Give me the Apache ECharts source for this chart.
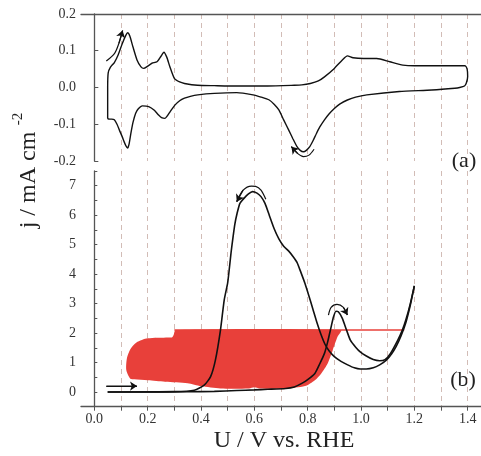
<!DOCTYPE html>
<html><head><meta charset="utf-8">
<script src="https://cdn.jsdelivr.net/npm/echarts@6/dist/echarts.min.js"></script>
<style>html,body{margin:0;padding:0;background:#fff}#c{width:481px;height:456px}</style>
</head><body><div id="c"></div>
<script>
// ---- data ----
const xTickValues = [0,0.1,0.2,0.3,0.4,0.5,0.6,0.7,0.8,0.9,1.0,1.1,1.2,1.3,1.4];
const xLabelValues = [0,0.2,0.4,0.6,0.8,1.0,1.2,1.4];
const bottomYLabels = [0,1,2,3,4,5,6,7];

// panel (a): cyclic voltammogram (closed loop)
const cvA = [[0.05,-0.085],[0.05,0.0],[0.052,0.04],[0.06,0.055],[0.075,0.068],[0.09,0.09],[0.105,0.12],[0.118,0.142],[0.125,0.149],[0.133,0.14],[0.145,0.11],[0.16,0.075],[0.175,0.056],[0.185,0.052],[0.2,0.058],[0.216,0.066],[0.235,0.07],[0.25,0.085],[0.261,0.096],[0.272,0.082],[0.283,0.057],[0.3,0.025],[0.32,0.015],[0.338,0.011],[0.387,0.006],[0.45,0.005],[0.534,0.004],[0.65,0.004],[0.75,0.006],[0.778,0.007],[0.81,0.011],[0.84,0.018],[0.863,0.029],[0.9,0.052],[0.93,0.075],[0.949,0.086],[0.97,0.081],[1.01,0.079],[1.059,0.079],[1.108,0.07],[1.157,0.061],[1.2,0.059],[1.39,0.059],[1.398,0.05],[1.4,0.03],[1.395,0.012],[1.388,0.004],[1.37,0.0],[1.352,-0.002],[1.266,-0.007],[1.144,-0.011],[1.022,-0.02],[0.98,-0.026],[0.949,-0.034],[0.92,-0.045],[0.9,-0.057],[0.88,-0.072],[0.863,-0.088],[0.845,-0.108],[0.833,-0.125],[0.82,-0.145],[0.808,-0.161],[0.795,-0.171],[0.784,-0.175],[0.772,-0.171],[0.76,-0.161],[0.745,-0.14],[0.729,-0.116],[0.71,-0.088],[0.692,-0.061],[0.675,-0.046],[0.656,-0.034],[0.625,-0.026],[0.595,-0.02],[0.534,-0.014],[0.45,-0.016],[0.388,-0.02],[0.36,-0.024],[0.338,-0.029],[0.32,-0.036],[0.302,-0.048],[0.285,-0.065],[0.265,-0.084],[0.252,-0.082],[0.241,-0.075],[0.225,-0.062],[0.204,-0.052],[0.18,-0.05],[0.165,-0.058],[0.155,-0.07],[0.145,-0.095],[0.137,-0.125],[0.13,-0.155],[0.125,-0.165],[0.118,-0.158],[0.113,-0.15],[0.104,-0.133],[0.094,-0.116],[0.085,-0.1],[0.075,-0.088],[0.065,-0.086],[0.057,-0.086],[0.05,-0.085]];

// panel (b): forward scan
const forwardB = [[0.05,0],[0.2,0],[0.35,0.005],[0.45,0.02],[0.534,0.05],[0.6,0.07],[0.65,0.09],[0.717,0.12],[0.75,0.17],[0.778,0.29],[0.8,0.42],[0.827,0.63],[0.845,0.95],[0.863,1.31],[0.875,1.7],[0.888,2.21],[0.897,2.55],[0.906,2.74],[0.915,2.72],[0.93,2.5],[0.945,2.12],[0.96,1.76],[0.98,1.52],[0.997,1.36],[1.02,1.22],[1.046,1.1],[1.07,1.06],[1.09,1.1],[1.11,1.3],[1.138,1.76],[1.155,2.1],[1.168,2.44],[1.185,3.0],[1.2,3.6]];
// panel (b): backward scan
const backwardB = [[1.2,3.6],[1.185,2.95],[1.168,2.35],[1.15,1.9],[1.132,1.55],[1.115,1.3],[1.095,1.08],[1.07,0.92],[1.046,0.82],[1.02,0.78],[0.997,0.78],[0.975,0.82],[0.95,0.92],[0.925,1.04],[0.9,1.2],[0.88,1.4],[0.865,1.62],[0.85,1.95],[0.835,2.35],[0.82,2.8],[0.805,3.25],[0.79,3.68],[0.775,4.05],[0.76,4.4],[0.745,4.6],[0.729,4.78],[0.71,4.95],[0.692,5.2],[0.674,5.55],[0.656,6.0],[0.64,6.4],[0.625,6.63],[0.61,6.75],[0.593,6.8],[0.578,6.72],[0.562,6.58],[0.546,6.4],[0.535,6.05],[0.527,5.7],[0.52,5.25],[0.513,4.75],[0.507,4.25],[0.5,3.7],[0.487,3.12],[0.473,2.1],[0.454,1.08],[0.436,0.52],[0.412,0.23],[0.375,0.06],[0.3,0.01],[0.05,0]];

// red patch in panel (b)
const redPatch = [[0.135,0.45],[0.12,0.74],[0.122,1.14],[0.135,1.45],[0.158,1.68],[0.2,1.82],[0.277,1.85],[0.292,1.86],[0.298,1.95],[0.305,2.1],[0.925,2.1],[0.912,1.87],[0.894,1.42],[0.875,0.97],[0.851,0.63],[0.827,0.4],[0.79,0.2],[0.717,0.12],[0.62,0.12],[0.6,0.16],[0.58,0.12],[0.473,0.12],[0.4,0.2],[0.35,0.3],[0.265,0.35],[0.2,0.4],[0.15,0.43]];
const redLine = [[0.3,2.1],[1.162,2.1]];

// arrows (last point = arrow tip)
const arrowA1 = [[0.045,0.072],[0.076,0.093],[0.092,0.12],[0.106,0.155]];
const arrowA2 = [[0.824,-0.168],[0.805,-0.184],[0.784,-0.188],[0.763,-0.18],[0.739,-0.161]];
const arrowB1 = [[0.643,6.54],[0.625,6.85],[0.605,6.98],[0.589,6.99],[0.558,6.85],[0.534,6.46]];
const arrowB2 = [[0.878,2.61],[0.888,2.87],[0.91,2.97],[0.934,2.87],[0.949,2.61]];
const arrowB3 = [[0.045,0.2],[0.16,0.2]];

// ---- chart ----
const chart = echarts.init(document.getElementById('c'), null, {renderer:'canvas'});
const FONT = '"Liberation Serif","Times New Roman",serif';
const axisCol = '#555';
const gridCol = '#d2bcb6';
const GL = 81, GW = 409.6;
const fmt1 = v => Number(v).toFixed(1);

function arrowSeries(coords, xi){
  const n = coords.length;
  return [
    {type:'line', xAxisIndex:xi, yAxisIndex:xi, data:coords, showSymbol:false, smooth:0.3, silent:true,
     lineStyle:{color:'#111', width:1.2}, z:5},
    {type:'lines', coordinateSystem:'cartesian2d', xAxisIndex:xi, yAxisIndex:xi,
     symbol:['none','arrow'], symbolSize:[5,7], silent:true,
     lineStyle:{color:'#111', width:1.2, opacity:1, curveness:0},
     data:[{coords:[coords[n-2], coords[n-1]]}], z:5}
  ];
}

chart.setOption({
  animation:false,
  grid:[
    {left:GL, top:14, width:GW, height:147},
    {left:GL, top:171, width:GW, height:235.7}
  ],
  xAxis:[
    {type:'value', gridIndex:0, min:-0.05, max:1.45, position:'top',
     axisLine:{show:true, onZero:false, lineStyle:{color:axisCol, width:1.3}},
     axisTick:{show:false, customValues:xTickValues},
     axisLabel:{show:false, customValues:xLabelValues},
     splitLine:{show:true, lineStyle:{color:gridCol, type:[5,4], width:1}}},
    {type:'value', gridIndex:1, min:-0.05, max:1.45, position:'bottom',
     axisLine:{show:true, onZero:false, lineStyle:{color:axisCol, width:1.3}},
     axisTick:{show:true, inside:false, length:4, customValues:xTickValues, lineStyle:{color:axisCol}},
     axisLabel:{show:true, customValues:xLabelValues, formatter:fmt1, fontFamily:FONT, fontSize:14, color:'#333', margin:6},
     splitLine:{show:true, lineStyle:{color:gridCol, type:[5,4], width:1}}}
  ],
  yAxis:[
    {type:'value', gridIndex:0, min:-0.2, max:0.2, interval:0.1,
     axisLine:{show:true, lineStyle:{color:axisCol, width:1.3}},
     axisTick:{show:true, inside:true, length:4, lineStyle:{color:axisCol}},
     axisLabel:{formatter:fmt1, fontFamily:FONT, fontSize:14, color:'#333', margin:5},
     splitLine:{show:false}},
    {type:'value', gridIndex:1, min:-0.5, max:7.5, interval:0.5,
     axisLine:{show:true, lineStyle:{color:axisCol, width:1.3}},
     axisTick:{show:true, inside:true, length:3, lineStyle:{color:axisCol}},
     axisLabel:{formatter:v => (Math.abs(v - Math.round(v)) < 1e-9 && bottomYLabels.indexOf(Math.round(v))>=0) ? String(Math.round(v)) : '',
       fontFamily:FONT, fontSize:14, color:'#333', margin:5},
     splitLine:{show:false}}
  ],
  series:[
    {type:'line', xAxisIndex:0, yAxisIndex:0, data:cvA, showSymbol:false, smooth:0.2,
     lineStyle:{color:'#111', width:1.4}, z:4},
    {type:'custom', xAxisIndex:1, yAxisIndex:1, data:[[0.5,1]], silent:true, z:2,
     renderItem:function(params, api){
       return {type:'polygon', shape:{points:redPatch.map(p => api.coord(p)), smooth:0.25},
               style:{fill:'#e8403a', stroke:null}};
     }},
    {type:'line', xAxisIndex:1, yAxisIndex:1, data:redLine, showSymbol:false,
     lineStyle:{color:'#e8403a', width:1.5}, z:2},
    {type:'line', xAxisIndex:1, yAxisIndex:1, data:forwardB, showSymbol:false, smooth:0.2,
     lineStyle:{color:'#111', width:1.6}, z:4},
    {type:'line', xAxisIndex:1, yAxisIndex:1, data:backwardB, showSymbol:false, smooth:0.2,
     lineStyle:{color:'#111', width:1.6}, z:4}
  ].concat(arrowSeries(arrowA1,0), arrowSeries(arrowA2,0), arrowSeries(arrowB1,1), arrowSeries(arrowB2,1), arrowSeries(arrowB3,1)),
  graphic:[
    {type:'text', x:284, y:441, style:{text:'U / V vs. RHE', font:'24px '+FONT, fill:'#222', align:'center', verticalAlign:'middle', textAlign:'center', textVerticalAlign:'middle'}},
    {type:'text', x:464, y:161, style:{text:'(a)', font:'22px '+FONT, fill:'#222', align:'center', verticalAlign:'middle', textAlign:'center', textVerticalAlign:'middle'}},
    {type:'text', x:463, y:380, style:{text:'(b)', font:'22px '+FONT, fill:'#222', align:'center', verticalAlign:'middle', textAlign:'center', textVerticalAlign:'middle'}},
    {type:'text', x:29, y:180, rotation:Math.PI/2, style:{text:'j / mA cm', font:'24px '+FONT, fill:'#222', align:'center', verticalAlign:'middle', textAlign:'center', textVerticalAlign:'middle'}},
    {type:'text', x:18, y:119, rotation:Math.PI/2, style:{text:'-2', font:'15px '+FONT, fill:'#222', align:'center', verticalAlign:'middle', textAlign:'center', textVerticalAlign:'middle'}}
  ]
});
</script></body></html>
